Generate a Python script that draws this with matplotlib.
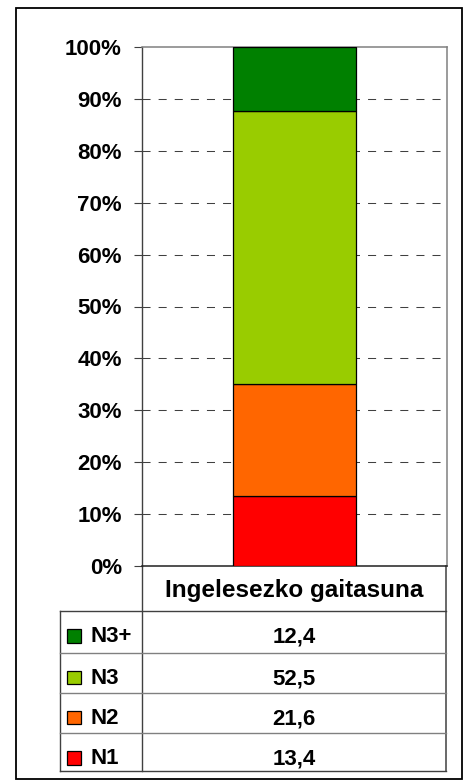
import matplotlib
matplotlib.use('Agg')
import matplotlib.pyplot as plt
from matplotlib.patches import Rectangle

# ---- data ----
category = 'Ingelesezko gaitasuna'
levels = ['N1', 'N2', 'N3', 'N3+']
values = [13.4, 21.6, 52.5, 12.4]
colors = ['#FF0000', '#FF6600', '#99CC00', '#008000']
yticks = [0, 10, 20, 30, 40, 50, 60, 70, 80, 90, 100]

plt.rcParams['font.family'] = ['Liberation Sans', 'DejaVu Sans']
plt.rcParams['font.weight'] = 'bold'
plt.rcParams['lines.scale_dashes'] = False

W, H = 464, 780
fig = plt.figure(figsize=(W / 100, H / 100), dpi=100)
fig.patch.set_facecolor('white')

# overlay axes in pixel coordinates for table / border
oax = fig.add_axes([0, 0, 1, 1])
oax.set_xlim(0, W)
oax.set_ylim(H, 0)
oax.axis('off')

# main plot
L, R, T, B = 142, 446.5, 47, 566
ax = fig.add_axes([L / W, 1 - B / H, (R - L) / W, (B - T) / H])
ax.patch.set_alpha(0)
total = sum(values)
bottom = 0.0
for lv, v, c in zip(levels, values, colors):
    h = v / total * 100
    ax.bar(0, h, bottom=bottom, width=0.404, color=c, edgecolor='black',
           linewidth=0.9, zorder=3)
    bottom += h
ax.set_xlim(-0.5, 0.5)
ax.set_ylim(0, 100)
ax.set_xticks([])
ax.set_yticks(yticks)
ax.set_yticklabels([f'{t}%' for t in yticks])
ax.tick_params(axis='y', direction='out', length=5.8, width=0.8, color='#404040',
               pad=8.6, labelsize=16)
for t in yticks[1:-1]:
    ax.axhline(t, color='#404040', lw=0.75, ls=(0, (5.8, 5.8)), zorder=1)
for s in ['top', 'right']:
    ax.spines[s].set_color('#808080')
    ax.spines[s].set_linewidth(1.1)
ax.spines['left'].set_color('#404040')
ax.spines['left'].set_linewidth(1.0)
ax.spines['bottom'].set_color('#202020')
ax.spines['bottom'].set_linewidth(1.1)

# ---- data table ----
tl, tr = 60, R
row_edges = [611, 652.5, 692.7, 733, 771]
dark = '#404040'
light = '#808080'
oax.plot([L, L], [B, row_edges[-1]], color=dark, lw=1.0)
oax.plot([R, R], [B, row_edges[-1]], color=dark, lw=1.1)
oax.plot([tl, tl], [row_edges[0], row_edges[-1]], color=dark, lw=1.0)
oax.plot([tl, R], [row_edges[0], row_edges[0]], color=dark, lw=1.0)
oax.plot([tl, R], [row_edges[-1], row_edges[-1]], color=dark, lw=1.0)
for y in row_edges[1:-1]:
    oax.plot([tl, R], [y, y], color=light, lw=1.0)

cx = (L + R) / 2
oax.text(cx, 596.7, category, ha='center', va='baseline', fontsize=17.5,
         fontweight='bold')

rows = list(zip(levels, values, colors))[::-1]
for i, (lv, v, c) in enumerate(rows):
    base = row_edges[i] + 31.5
    oax.add_patch(Rectangle((67, base - 13.5), 14, 13.5, facecolor=c,
                            edgecolor='black', lw=0.9))
    oax.text(90.5, base, lv, ha='left', va='baseline', fontsize=16,
             fontweight='bold')
    oax.text(cx, base, f'{v:.1f}'.replace('.', ','), ha='center',
             va='baseline', fontsize=16, fontweight='bold')

# outer border
oax.add_patch(Rectangle((16, 8), 446, 771, facecolor='none',
                        edgecolor='black', lw=1.3))

fig.savefig('out.png', dpi=100)
